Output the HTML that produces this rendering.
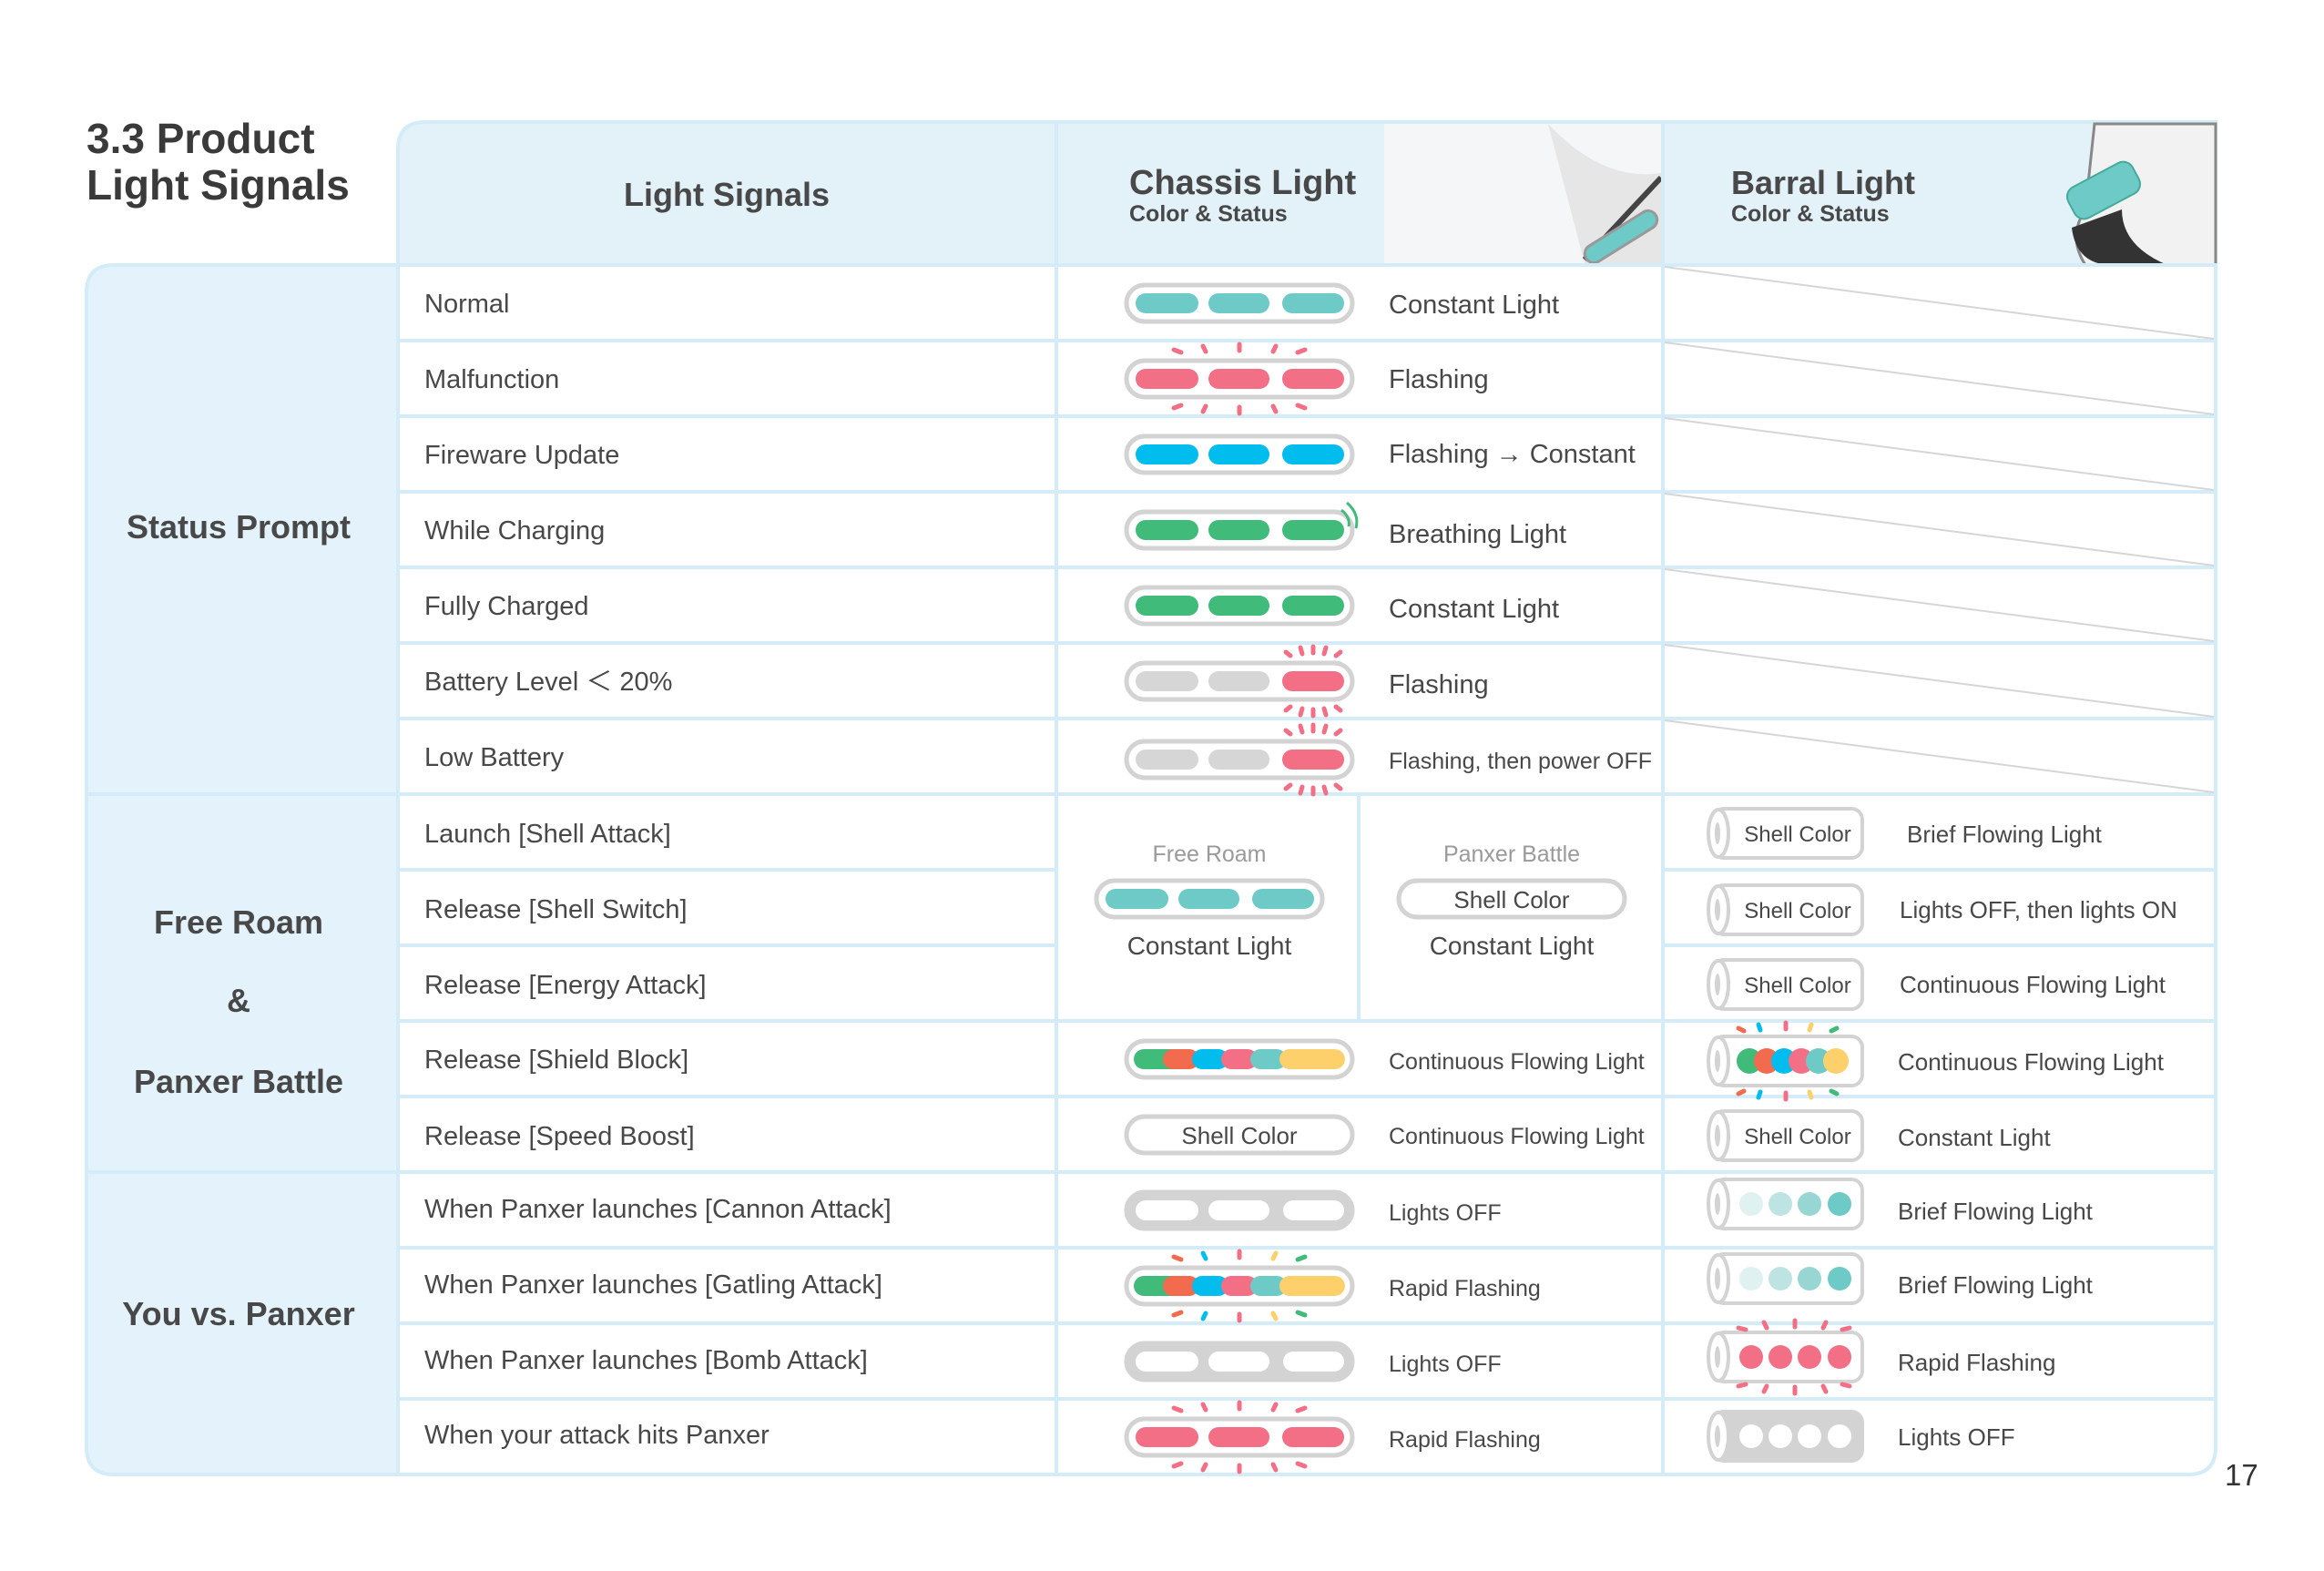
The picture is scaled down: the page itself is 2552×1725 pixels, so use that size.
<!DOCTYPE html>
<html><head><meta charset="utf-8"><style>
html,body{margin:0;padding:0;background:#fff;}
svg{display:block;}
text{font-family:"Liberation Sans",sans-serif;}
</style></head><body>
<svg width="2552" height="1725" viewBox="0 0 2552 1725" xmlns="http://www.w3.org/2000/svg" fill="#484848">
<defs>
  <clipPath id="pc"><rect x="-116" y="-11" width="232" height="22" rx="11"/></clipPath>
  <g id="frame"><rect x="-124" y="-20" width="248" height="40" rx="20" fill="#fff" stroke="#d3d3d3" stroke-width="5"/></g>
  <g id="off"><rect x="-124" y="-20" width="248" height="40" rx="20" fill="#d3d3d3" stroke="#d3d3d3" stroke-width="5"/>
    <rect x="-114" y="-11" width="69" height="22" rx="11" fill="#fff"/><rect x="-34" y="-11" width="67" height="22" rx="11" fill="#fff"/><rect x="48" y="-11" width="67" height="22" rx="11" fill="#fff"/></g>
  <g id="multi"><use href="#frame"/><g clip-path="url(#pc)">
    <rect x="-116" y="-11" width="60" height="22" fill="#41bb79"/><rect x="-84" y="-11" width="40" height="22" rx="11" fill="#f26b4f"/>
    <rect x="-52" y="-11" width="40" height="22" rx="11" fill="#00bdee"/><rect x="-20" y="-11" width="40" height="22" rx="11" fill="#f36f86"/>
    <rect x="12" y="-11" width="40" height="22" rx="11" fill="#6ecac6"/><rect x="44" y="-11" width="72" height="22" rx="11" fill="#fdd06b"/></g></g>
  <g id="rays" stroke-width="5" stroke-linecap="round">
    <line x1="-72" y1="-32" x2="-64" y2="-29"/><line x1="-40" y1="-36" x2="-37" y2="-30"/><line x1="0" y1="-38" x2="0" y2="-31"/><line x1="40" y1="-36" x2="37" y2="-30"/><line x1="72" y1="-32" x2="64" y2="-29"/>
    <line x1="-72" y1="32" x2="-64" y2="29"/><line x1="-40" y1="36" x2="-37" y2="30"/><line x1="0" y1="38" x2="0" y2="31"/><line x1="40" y1="36" x2="37" y2="30"/><line x1="72" y1="32" x2="64" y2="29"/>
  </g>
  <g id="rays2" stroke-width="5" stroke-linecap="round">
    <line x1="-30" y1="-32" x2="-25" y2="-28"/><line x1="-14" y1="-37" x2="-12" y2="-30"/><line x1="0" y1="-38" x2="0" y2="-31"/><line x1="14" y1="-37" x2="12" y2="-30"/><line x1="30" y1="-32" x2="25" y2="-28"/>
    <line x1="-30" y1="32" x2="-25" y2="28"/><line x1="-14" y1="37" x2="-12" y2="30"/><line x1="0" y1="38" x2="0" y2="31"/><line x1="14" y1="37" x2="12" y2="30"/><line x1="30" y1="32" x2="25" y2="28"/>
  </g>
  <g id="cyl"><rect x="-80" y="-27" width="164" height="54" rx="12" fill="#fff" stroke="#d3d3d3" stroke-width="4"/>
    <ellipse cx="-74" cy="0" rx="11" ry="26" fill="#fff" stroke="#d3d3d3" stroke-width="4"/><ellipse cx="-75" cy="0" rx="3" ry="12" fill="#d3d3d3"/></g>
  <g id="cyloff"><rect x="-80" y="-27" width="164" height="54" rx="12" fill="#d3d3d3" stroke="#d3d3d3" stroke-width="4"/>
    <ellipse cx="-74" cy="0" rx="11" ry="26" fill="#fff" stroke="#d3d3d3" stroke-width="4"/><ellipse cx="-75" cy="0" rx="3" ry="12" fill="#d3d3d3"/></g>
</defs>

<!-- title -->
<text x="95" y="168" font-size="46" font-weight="bold" fill="#3a3a3a">3.3 Product</text>
<text x="95" y="219" font-size="46" font-weight="bold" fill="#3a3a3a">Light Signals</text>

<!-- header -->
<path d="M437 164 Q437 134 467 134 H2433 V291 H437 Z" fill="#e3f1f9" stroke="#d4ecf8" stroke-width="4"/>
<rect x="1520" y="136" width="304" height="153" fill="#f4f6f7"/>
<path d="M1700 136 Q1760 200 1824 190 V289 H1740 Z" fill="#e6e6e6"/>
<line x1="1740" y1="285" x2="1824" y2="195" stroke="#444" stroke-width="6"/>
<rect x="1735" y="250" width="90" height="20" rx="10" transform="rotate(-32 1780 260)" fill="#6ecac6" stroke="#999" stroke-width="3"/>
<path d="M2300 136 H2433 V291 H2290 Q2270 260 2290 230 Z" fill="#f2f2f2" stroke="#888" stroke-width="3"/>
<path d="M2275 250 Q2280 291 2320 291 H2380 Q2330 270 2330 230 Z" fill="#333"/>
<rect x="2270" y="190" width="80" height="38" rx="12" transform="rotate(-28 2310 209)" fill="#6ecac6" stroke="#4a9" stroke-width="2"/>

<text x="798" y="226" font-size="36" font-weight="bold" text-anchor="middle">Light Signals</text>
<text x="1240" y="213" font-size="38" font-weight="bold">Chassis Light</text>
<text x="1240" y="243" font-size="25" font-weight="bold">Color &amp; Status</text>
<text x="1901" y="213" font-size="36" font-weight="bold">Barral Light</text>
<text x="1901" y="243" font-size="25" font-weight="bold">Color &amp; Status</text>

<!-- left column -->
<path d="M95 321 Q95 291 125 291 H437 V1619 H125 Q95 1619 95 1589 Z" fill="#e4f3fb" stroke="#d4ecf8" stroke-width="4"/>
<line x1="95" y1="872" x2="437" y2="872" stroke="#d4ecf8" stroke-width="4"/>
<line x1="95" y1="1287" x2="437" y2="1287" stroke="#d4ecf8" stroke-width="4"/>
<text x="262" y="591" font-size="36" font-weight="bold" text-anchor="middle">Status Prompt</text>
<text x="262" y="1025" font-size="36" font-weight="bold" text-anchor="middle">Free Roam</text>
<text x="262" y="1111" font-size="36" font-weight="bold" text-anchor="middle">&amp;</text>
<text x="262" y="1200" font-size="36" font-weight="bold" text-anchor="middle">Panxer Battle</text>
<text x="262" y="1455" font-size="36" font-weight="bold" text-anchor="middle">You vs. Panxer</text>

<!-- body -->
<path d="M437 291 H2433 V1589 Q2433 1619 2403 1619 H437 Z" fill="#fff" stroke="#d4ecf8" stroke-width="4"/>
<g stroke="#d4ecf8" stroke-width="4">
<line x1="437" y1="374" x2="2433" y2="374"/><line x1="437" y1="457" x2="2433" y2="457"/><line x1="437" y1="540" x2="2433" y2="540"/>
<line x1="437" y1="623" x2="2433" y2="623"/><line x1="437" y1="706" x2="2433" y2="706"/><line x1="437" y1="789" x2="2433" y2="789"/>
<line x1="437" y1="872" x2="2433" y2="872"/><line x1="437" y1="955" x2="1160" y2="955"/><line x1="1826" y1="955" x2="2433" y2="955"/>
<line x1="437" y1="1038" x2="1160" y2="1038"/><line x1="1826" y1="1038" x2="2433" y2="1038"/>
<line x1="437" y1="1121" x2="2433" y2="1121"/><line x1="437" y1="1204" x2="2433" y2="1204"/><line x1="437" y1="1287" x2="2433" y2="1287"/>
<line x1="437" y1="1370" x2="2433" y2="1370"/><line x1="437" y1="1453" x2="2433" y2="1453"/><line x1="437" y1="1536" x2="2433" y2="1536"/>
<line x1="1160" y1="134" x2="1160" y2="1619"/><line x1="1826" y1="134" x2="1826" y2="1619"/><line x1="1492" y1="872" x2="1492" y2="1121"/>
</g>
<g stroke="#d6d6d6" stroke-width="2">
<line x1="1828" y1="293" x2="2431" y2="372"/><line x1="1828" y1="376" x2="2431" y2="455"/><line x1="1828" y1="459" x2="2431" y2="538"/>
<line x1="1828" y1="542" x2="2431" y2="621"/><line x1="1828" y1="625" x2="2431" y2="704"/><line x1="1828" y1="708" x2="2431" y2="787"/>
<line x1="1828" y1="791" x2="2431" y2="870"/>
</g>

<g font-size="29">
<text x="466" y="343">Normal</text><text x="466" y="426">Malfunction</text><text x="466" y="509">Fireware Update</text>
<text x="466" y="592">While Charging</text><text x="466" y="675">Fully Charged</text><text x="466" y="758">Battery Level ＜ 20%</text>
<text x="466" y="841">Low Battery</text><text x="466" y="925">Launch [Shell Attack]</text><text x="466" y="1008">Release [Shell Switch]</text>
<text x="466" y="1091">Release [Energy Attack]</text><text x="466" y="1173">Release [Shield Block]</text><text x="466" y="1257">Release [Speed Boost]</text>
<text x="466" y="1337">When Panxer launches [Cannon Attack]</text><text x="466" y="1420">When Panxer launches [Gatling Attack]</text>
<text x="466" y="1503">When Panxer launches [Bomb Attack]</text><text x="466" y="1585">When your attack hits Panxer</text>
</g>

<g transform="translate(1361 333)"><use href="#frame"/><g fill="#6ecac6"><rect x="-114" y="-11" width="69" height="22" rx="11"/><rect x="-34" y="-11" width="67" height="22" rx="11"/><rect x="47" y="-11" width="68" height="22" rx="11"/></g></g>
<g transform="translate(1361 416)"><use href="#frame"/><g fill="#f36f86"><rect x="-114" y="-11" width="69" height="22" rx="11"/><rect x="-34" y="-11" width="67" height="22" rx="11"/><rect x="47" y="-11" width="68" height="22" rx="11"/></g><use href="#rays" stroke="#f36f86"/></g>
<g transform="translate(1361 499)"><use href="#frame"/><g fill="#00bdee"><rect x="-114" y="-11" width="69" height="22" rx="11"/><rect x="-34" y="-11" width="67" height="22" rx="11"/><rect x="47" y="-11" width="68" height="22" rx="11"/></g></g>
<g transform="translate(1361 582)"><use href="#frame"/><g fill="#41bb79"><rect x="-114" y="-11" width="69" height="22" rx="11"/><rect x="-34" y="-11" width="67" height="22" rx="11"/><rect x="47" y="-11" width="68" height="22" rx="11"/></g>
 <path d="M112 -22 Q122 -14 120 -4" stroke="#41bb79" stroke-width="3" fill="none"/><path d="M118 -30 Q132 -18 128 -2" stroke="#41bb79" stroke-width="3" fill="none"/></g>
<g transform="translate(1361 665)"><use href="#frame"/><g fill="#41bb79"><rect x="-114" y="-11" width="69" height="22" rx="11"/><rect x="-34" y="-11" width="67" height="22" rx="11"/><rect x="47" y="-11" width="68" height="22" rx="11"/></g></g>
<g transform="translate(1361 748)"><use href="#frame"/><rect x="-114" y="-11" width="69" height="22" rx="11" fill="#d6d6d6"/><rect x="-34" y="-11" width="67" height="22" rx="11" fill="#d6d6d6"/><rect x="47" y="-11" width="68" height="22" rx="11" fill="#f36f86"/>
 <g transform="translate(81 0)"><use href="#rays2" stroke="#f36f86"/></g></g>
<g transform="translate(1361 834)"><use href="#frame"/><rect x="-114" y="-11" width="69" height="22" rx="11" fill="#d6d6d6"/><rect x="-34" y="-11" width="67" height="22" rx="11" fill="#d6d6d6"/><rect x="47" y="-11" width="68" height="22" rx="11" fill="#f36f86"/>
 <g transform="translate(81 0)"><use href="#rays2" stroke="#f36f86"/></g></g>

<g font-size="29">
<text x="1525" y="344">Constant Light</text><text x="1525" y="426">Flashing</text><text x="1525" y="508">Flashing → Constant</text>
<text x="1525" y="596">Breathing Light</text><text x="1525" y="678">Constant Light</text><text x="1525" y="761">Flashing</text>
</g>
<text x="1525" y="844" font-size="25">Flashing, then power OFF</text>

<text x="1328" y="946" font-size="25" fill="#9a9a9a" text-anchor="middle">Free Roam</text>
<g transform="translate(1328 987)"><use href="#frame"/><g fill="#6ecac6"><rect x="-114" y="-11" width="69" height="22" rx="11"/><rect x="-34" y="-11" width="67" height="22" rx="11"/><rect x="47" y="-11" width="68" height="22" rx="11"/></g></g>
<text x="1328" y="1048" font-size="28" text-anchor="middle">Constant Light</text>
<text x="1660" y="946" font-size="25" fill="#9a9a9a" text-anchor="middle">Panxer Battle</text>
<g transform="translate(1660 987)"><use href="#frame"/></g>
<text x="1660" y="997" font-size="26" text-anchor="middle">Shell Color</text>
<text x="1660" y="1048" font-size="28" text-anchor="middle">Constant Light</text>

<g transform="translate(1361 1163)"><use href="#multi"/></g>
<g transform="translate(1361 1246)"><use href="#frame"/></g>
<text x="1361" y="1256" font-size="26" text-anchor="middle">Shell Color</text>
<g transform="translate(1361 1329)"><use href="#off"/></g>
<g transform="translate(1361 1412)"><use href="#multi"/>
 <g stroke-width="5" stroke-linecap="round">
 <line x1="-72" y1="-32" x2="-64" y2="-29" stroke="#f26b4f"/><line x1="-40" y1="-36" x2="-37" y2="-30" stroke="#00bdee"/><line x1="0" y1="-38" x2="0" y2="-31" stroke="#f36f86"/><line x1="40" y1="-36" x2="37" y2="-30" stroke="#fdd06b"/><line x1="72" y1="-32" x2="64" y2="-29" stroke="#41bb79"/>
 <line x1="-72" y1="32" x2="-64" y2="29" stroke="#f26b4f"/><line x1="-40" y1="36" x2="-37" y2="30" stroke="#00bdee"/><line x1="0" y1="38" x2="0" y2="31" stroke="#f36f86"/><line x1="40" y1="36" x2="37" y2="30" stroke="#fdd06b"/><line x1="72" y1="32" x2="64" y2="29" stroke="#41bb79"/></g></g>
<g transform="translate(1361 1495)"><use href="#off"/></g>
<g transform="translate(1361 1578)"><use href="#frame"/><g fill="#f36f86"><rect x="-114" y="-11" width="69" height="22" rx="11"/><rect x="-34" y="-11" width="67" height="22" rx="11"/><rect x="47" y="-11" width="68" height="22" rx="11"/></g><use href="#rays" stroke="#f36f86"/></g>

<g font-size="25">
<text x="1525" y="1174">Continuous Flowing Light</text><text x="1525" y="1256">Continuous Flowing Light</text>
<text x="1525" y="1340">Lights OFF</text><text x="1525" y="1423">Rapid Flashing</text>
<text x="1525" y="1506">Lights OFF</text><text x="1525" y="1589">Rapid Flashing</text>
</g>

<g transform="translate(1961 915)"><use href="#cyl"/></g>
<g transform="translate(1961 999)"><use href="#cyl"/></g>
<g transform="translate(1961 1081)"><use href="#cyl"/></g>
<g transform="translate(1961 1165)"><use href="#cyl"/>
 <circle cx="-40" cy="0" r="14" fill="#41bb79"/><circle cx="-21" cy="0" r="14" fill="#f26b4f"/><circle cx="-2" cy="0" r="14" fill="#00bdee"/><circle cx="17" cy="0" r="14" fill="#f36f86"/><circle cx="36" cy="0" r="14" fill="#6ecac6"/><circle cx="55" cy="0" r="14" fill="#fdd06b"/>
 <g stroke-width="5" stroke-linecap="round"><line x1="-52" y1="-36" x2="-46" y2="-33" stroke="#f26b4f"/><line x1="-30" y1="-40" x2="-28" y2="-34" stroke="#00bdee"/><line x1="0" y1="-42" x2="0" y2="-35" stroke="#f36f86"/><line x1="28" y1="-40" x2="26" y2="-34" stroke="#fdd06b"/><line x1="56" y1="-36" x2="50" y2="-33" stroke="#41bb79"/>
 <line x1="-52" y1="36" x2="-46" y2="33" stroke="#f26b4f"/><line x1="-30" y1="40" x2="-28" y2="34" stroke="#00bdee"/><line x1="0" y1="42" x2="0" y2="35" stroke="#f36f86"/><line x1="28" y1="40" x2="26" y2="34" stroke="#fdd06b"/><line x1="56" y1="36" x2="50" y2="33" stroke="#41bb79"/></g></g>
<g transform="translate(1961 1247)"><use href="#cyl"/></g>
<g font-size="24" text-anchor="middle"><text x="1974" y="924">Shell Color</text><text x="1974" y="1008">Shell Color</text><text x="1974" y="1090">Shell Color</text><text x="1974" y="1256">Shell Color</text></g>
<g transform="translate(1961 1322)"><use href="#cyl"/><circle cx="-38" r="13" fill="#dff1f1"/><circle cx="-6" r="13" fill="#bde4e2"/><circle cx="26" r="13" fill="#98d6d4"/><circle cx="59" r="13" fill="#6ecac6"/></g>
<g transform="translate(1961 1404)"><use href="#cyl"/><circle cx="-38" r="13" fill="#dff1f1"/><circle cx="-6" r="13" fill="#bde4e2"/><circle cx="26" r="13" fill="#98d6d4"/><circle cx="59" r="13" fill="#6ecac6"/></g>
<g transform="translate(1961 1490)"><use href="#cyl"/><g fill="#f36f86"><circle cx="-38" r="13"/><circle cx="-6" r="13"/><circle cx="26" r="13"/><circle cx="59" r="13"/></g>
 <g stroke="#f36f86" stroke-width="5" stroke-linecap="round"><line x1="-52" y1="-32" x2="-44" y2="-30"/><line x1="-24" y1="-38" x2="-21" y2="-32"/><line x1="10" y1="-40" x2="10" y2="-33"/><line x1="44" y1="-38" x2="41" y2="-32"/><line x1="70" y1="-32" x2="62" y2="-30"/>
 <line x1="-52" y1="32" x2="-44" y2="30"/><line x1="-24" y1="38" x2="-21" y2="32"/><line x1="10" y1="40" x2="10" y2="33"/><line x1="44" y1="38" x2="41" y2="32"/><line x1="70" y1="32" x2="62" y2="30"/></g></g>
<g transform="translate(1961 1577)"><use href="#cyloff"/><g fill="#fff"><circle cx="-38" r="13"/><circle cx="-6" r="13"/><circle cx="26" r="13"/><circle cx="59" r="13"/></g></g>

<g font-size="26">
<text x="2094" y="925">Brief Flowing Light</text><text x="2086" y="1008">Lights OFF, then lights ON</text>
<text x="2086" y="1090">Continuous Flowing Light</text><text x="2084" y="1175">Continuous Flowing Light</text>
<text x="2084" y="1258">Constant Light</text><text x="2084" y="1339">Brief Flowing Light</text>
<text x="2084" y="1420">Brief Flowing Light</text><text x="2084" y="1505">Rapid Flashing</text><text x="2084" y="1587">Lights OFF</text>
</g>

<text x="2443" y="1631" font-size="33" fill="#333">17</text>
</svg>
</body></html>
